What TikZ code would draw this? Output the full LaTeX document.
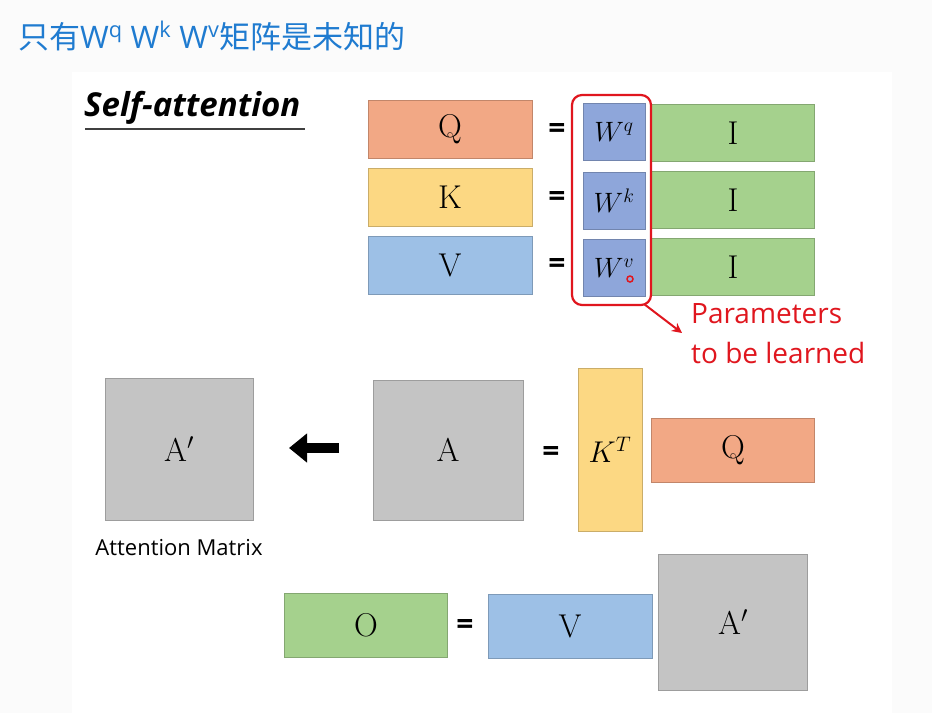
\RequirePackage{fix-cm}
\documentclass[tikz,border=0pt]{standalone}
\usepackage{fontspec}
\setsansfont{Open Sans}
\newfontfamily\cjk{Noto Sans CJK SC}
\usetikzlibrary{arrows.meta}
\definecolor{qc}{HTML}{F2A885}
\definecolor{kc}{HTML}{FCD883}
\definecolor{vc}{HTML}{9DC0E6}
\definecolor{wc}{HTML}{8EA6DA}
\definecolor{ic}{HTML}{A5D18D}
\definecolor{gc}{HTML}{C4C4C4}
\definecolor{tb}{HTML}{1F7BD0}
\definecolor{rd}{HTML}{E0161E}
\begin{document}
\begin{tikzpicture}[x=1pt,y=-1pt,
  box/.style={draw=#1!80!black,line width=0.6pt,fill=#1,inner sep=0pt,font=\fontsize{33}{33}\selectfont},
  eq/.style={font=\sffamily\bfseries\fontsize{30}{30}\selectfont}]
\useasboundingbox (0,0) rectangle (932,713);
\fill[gray!3] (0,0) rectangle (932,713);
\fill[white] (72,72) rectangle (892,713);
\node[anchor=west,text=tb,font=\fontsize{31}{31}\selectfont,inner sep=0pt] (title) at (18,36) {\cjk 只有\sffamily W\textsuperscript{q} W\textsuperscript{k} W\textsuperscript{v}\cjk 矩阵是未知的};
\node[font=\sffamily\bfseries\itshape\fontsize{33}{33}\selectfont,anchor=west,inner sep=0pt] (sa) at (84,108) {Self-attention};
\draw[line width=1.4pt,black!75] (85,129) -- (305,129);
% row 1
\node[box=qc,minimum width=164,minimum height=58] (Q) at (450,129) {Q};
\node[box=kc,minimum width=164,minimum height=58] (K) at (450,197) {K};
\node[box=vc,minimum width=164,minimum height=58] (V) at (450,265) {V};
\node[eq] (e1) at (557,131) {=};
\node[eq] (e2) at (557,199) {=};
\node[eq] (e3) at (557,266) {=};
\node[box=wc,minimum width=62,minimum height=57,font=\fontsize{28}{28}\selectfont] (Wq) at (614,132) {$W^q$};
\node[box=wc,minimum width=62,minimum height=57,font=\fontsize{28}{28}\selectfont] (Wk) at (614,201) {$W^k$};
\node[box=wc,minimum width=62,minimum height=57,font=\fontsize{28}{28}\selectfont] (Wv) at (614,268) {$W^v$};
\node[box=ic,minimum width=163,minimum height=57] (I1) at (733,133) {I};
\node[box=ic,minimum width=163,minimum height=57] (I2) at (733,200) {I};
\node[box=ic,minimum width=163,minimum height=57] (I3) at (733,267) {I};
\draw[rd,line width=2.2pt,rounded corners=10pt] (572,95) rectangle (651,305);
\coordinate (rs) at (644,304);
\node[text=rd,font=\sffamily\fontsize{28}{40}\selectfont,align=left,anchor=north west,inner sep=0pt] (par) at (691,303) {Parameters\\to be learned};
\draw[rd,line width=2pt,-{Stealth[length=10pt,width=10pt]}] (rs) -- (682,333);
\draw[rd,line width=1.5pt] (630,279) circle (3pt);
% row 2
\node[box=gc,minimum width=148,minimum height=142] (Ap) at (179,449) {A$'$};
\node[font=\sffamily\fontsize{22}{22}\selectfont] (am) at (179,548) {Attention Matrix};
\draw[line width=10pt,-{Triangle[length=18pt,width=28pt]}] (339,448) -- (289,448);
\node[box=gc,minimum width=150,minimum height=140] (A) at (448,450) {A};
\node[eq] (e4) at (551,454) {=};
\node[box=kc,minimum width=64,minimum height=163,font=\fontsize{30}{30}\selectfont] (KT) at (610,450) {$K^T$};
\node[box=qc,minimum width=163,minimum height=64] (Q2) at (733,450) {Q};
% row 3
\node[box=ic,minimum width=163,minimum height=64] (O) at (366,625) {O};
\node[eq] (e5) at (465,627) {=};
\node[box=vc,minimum width=164,minimum height=64] (V2) at (570,626) {V};
\node[box=gc,minimum width=149,minimum height=136] (A2) at (733,622) {A$'$};
\end{tikzpicture}
\end{document}
